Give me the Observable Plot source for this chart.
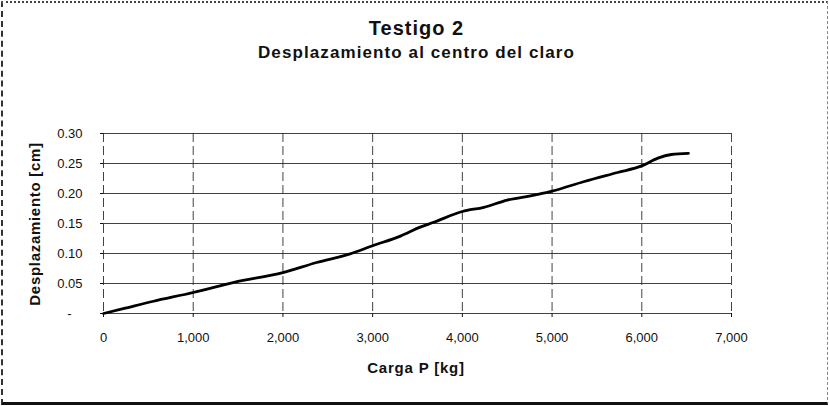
<!DOCTYPE html>
<html>
<head>
<meta charset="utf-8">
<script src="https://cdn.jsdelivr.net/npm/d3@7"></script>
<script src="https://cdn.jsdelivr.net/npm/@observablehq/plot@0.6"></script>
<style>
  html, body { margin: 0; padding: 0; background: #fff; }
  #wrap { position: relative; width: 829px; height: 406px; overflow: hidden; font-family: "Liberation Sans", Arial, sans-serif; color: #111; }
  #frame { position: absolute; left: 1px; top: 1px; width: 824px; height: 399px; border-left: 2px dashed #333; border-top: 2px dotted #444; border-right: 1px dashed #888; border-bottom: 3px solid #111; }
  .t { position: absolute; left: 2px; width: 829px; text-align: center; font-weight: bold; white-space: nowrap; }
  #title { top: 17px; font-size: 20px; letter-spacing: 1px; }
  #subtitle { top: 43px; font-size: 17px; letter-spacing: 1.1px; }
  #xlabel { position: absolute; left: 346px; width: 140px; text-align: center; top: 359px; font-size: 15px; font-weight: bold; letter-spacing: 0.8px; white-space: nowrap; }
  #ylabel { position: absolute; left: 34px; top: 224px; transform: translate(-50%, -50%) rotate(-90deg); font-size: 15px; font-weight: bold; letter-spacing: 0.7px; white-space: nowrap; }
  #chart { position: absolute; left: 0; top: 80px; }
</style>
</head>
<body>
<div id="wrap">
  <div id="frame"></div>
  <div class="t" id="title">Testigo 2</div>
  <div class="t" id="subtitle">Desplazamiento al centro del claro</div>
  <div id="ylabel">Desplazamiento [cm]</div>
  <div id="xlabel">Carga P [kg]</div>
  <div id="chart"></div>
</div>
<script>
// Load P [kg]
const loads = [0, 220, 545, 1000, 1455, 2000, 2375, 2740, 3000, 3310, 3530, 3680, 4000, 4240, 4500, 4760, 5000, 5360, 5730, 6000, 6180, 6330, 6520];
// Mid-span displacement [cm]
const displacements = [0, 0.008, 0.020, 0.035, 0.052, 0.068, 0.085, 0.099, 0.113, 0.129, 0.144, 0.152, 0.170, 0.177, 0.189, 0.196, 0.204, 0.220, 0.235, 0.246, 0.259, 0.265, 0.267];
// Axis ticks
const xTicks = [0, 1000, 2000, 3000, 4000, 5000, 6000, 7000];
const yTicks = [0, 0.05, 0.10, 0.15, 0.20, 0.25, 0.30];

const data = loads.map((x, i) => ({x, y: displacements[i]}));
const fmtX = d3.format(",");

const chart = Plot.plot({
  width: 829,
  height: 310,
  marginTop: 53,
  marginBottom: 77,
  marginLeft: 103,
  marginRight: 98,
  style: {fontFamily: "'Liberation Sans', Arial, sans-serif", fontSize: "13px", color: "#111", background: "transparent"},
  x: {domain: [0, 7000]},
  y: {domain: [0, 0.30]},
  marks: [
    Plot.ruleX(xTicks, {stroke: "#222", strokeWidth: 1, strokeDasharray: "9,4", strokeOpacity: 0.85}),
    Plot.ruleY(yTicks, {stroke: "#222", strokeWidth: 1, strokeOpacity: 0.85}),
    Plot.axisX({ticks: xTicks, tickFormat: d => fmtX(d), tickSize: 4, tickPadding: 15, label: null, fontSize: 13, letterSpacing: "0.8px"}),
    Plot.axisY({ticks: yTicks, tickFormat: d => d === 0 ? "-\u00a0\u00a0\u00a0" : d.toFixed(2), tickSize: 3, tickPadding: 18, label: null, fontSize: 13}),
    Plot.line(data, {x: "x", y: "y", stroke: "#000", strokeWidth: 2.8, curve: "monotone-x"})
  ]
});
document.getElementById("chart").appendChild(chart);
</script>
</body>
</html>
